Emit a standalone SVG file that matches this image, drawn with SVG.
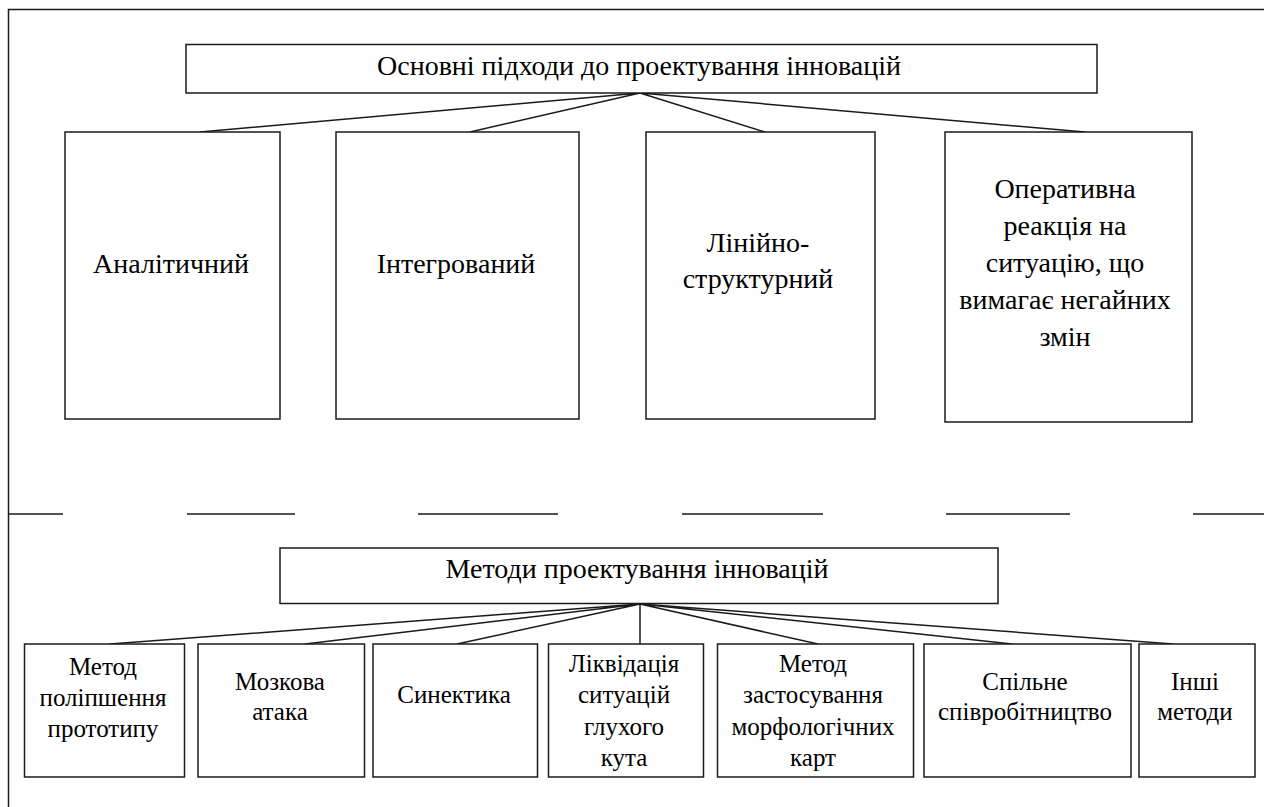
<svg xmlns="http://www.w3.org/2000/svg" width="1264" height="807" viewBox="0 0 1264 807">
<style>
.bx{fill:#fff;stroke:#1a1a1a;stroke-width:1.5}
.ln{stroke:#1a1a1a;stroke-width:1.5;fill:none}
.t{font-family:'Liberation Serif','Times New Roman',serif;fill:#000;text-anchor:middle}
.big{font-size:28px}
.sm{font-size:25px}
</style>
<rect width="1264" height="807" fill="#fff"/>
<g id="frame">
<path class="ln" d="M8.5,807 V9.5 H1264"/>
<path class="ln" d="M8,514 H63 M187,514 H295 M418,514 H558 M682,514 H823 M946,514 H1070 M1193,514 H1264"/>
</g>
<g id="connectors">
<path class="ln" d="M640,93 L200,132 M640,93 L470,132 M640,93 L765,132 M640,93 L1085,132"/>
<path class="ln" d="M640,604 L110,644 M640,604 L305,644 M640,604 L457,644 M640,604 L640,644 M640,604 L818,644 M640,604 L1012,644 M640,604 L1173,644"/>
</g>
<g id="n-approaches">
<rect class="bx" x="186" y="44.5" width="911" height="48.5"/>
<text class="t big" x="639" y="75">Основні підходи до проектування інновацій</text>
</g>
<g id="n-analytic">
<rect class="bx" x="65" y="132" width="215" height="287"/>
<text class="t big" x="171" y="273">Аналітичний</text>
</g>
<g id="n-integrated">
<rect class="bx" x="336" y="132" width="243" height="287"/>
<text class="t big" x="456" y="273">Інтегрований</text>
</g>
<g id="n-linear">
<rect class="bx" x="646" y="132" width="229" height="287"/>
<text class="t big" x="758" y="252">Лінійно-</text>
<text class="t big" x="758" y="288">структурний</text>
</g>
<g id="n-operative">
<rect class="bx" x="945" y="132" width="247" height="290"/>
<text class="t big" x="1065" y="198">Оперативна</text>
<text class="t big" x="1065" y="235">реакція на</text>
<text class="t big" x="1065" y="272">ситуацію, що</text>
<text class="t big" x="1065" y="309">вимагає негайних</text>
<text class="t big" x="1065" y="346">змін</text>
</g>
<g id="n-methods">
<rect class="bx" x="280" y="548" width="718" height="55.5"/>
<text class="t big" x="637" y="578">Методи проектування інновацій</text>
</g>
<g id="n-m1">
<rect class="bx" x="24.5" y="644" width="160" height="133"/>
<text class="t sm" x="103" y="675">Метод</text>
<text class="t sm" x="103" y="706">поліпшення</text>
<text class="t sm" x="103" y="737">прототипу</text>
</g>
<g id="n-m2">
<rect class="bx" x="198" y="644" width="166.5" height="133"/>
<text class="t sm" x="280" y="690">Мозкова</text>
<text class="t sm" x="280" y="720">атака</text>
</g>
<g id="n-m3">
<rect class="bx" x="373" y="644" width="164.5" height="133"/>
<text class="t sm" x="454" y="703">Синектика</text>
</g>
<g id="n-m4">
<rect class="bx" x="548.5" y="644" width="155" height="133"/>
<text class="t sm" x="624" y="672">Ліквідація</text>
<text class="t sm" x="624" y="703">ситуацій</text>
<text class="t sm" x="624" y="735">глухого</text>
<text class="t sm" x="624" y="766">кута</text>
</g>
<g id="n-m5">
<rect class="bx" x="717.5" y="644" width="196" height="133"/>
<text class="t sm" x="813" y="672">Метод</text>
<text class="t sm" x="813" y="703">застосування</text>
<text class="t sm" x="813" y="735">морфологічних</text>
<text class="t sm" x="813" y="766">карт</text>
</g>
<g id="n-m6">
<rect class="bx" x="924" y="644" width="207" height="133"/>
<text class="t sm" x="1025" y="690">Спільне</text>
<text class="t sm" x="1025" y="720">співробітництво</text>
</g>
<g id="n-m7">
<rect class="bx" x="1139" y="644" width="116" height="133"/>
<text class="t sm" x="1195" y="690">Інші</text>
<text class="t sm" x="1195" y="720">методи</text>
</g>
</svg>
